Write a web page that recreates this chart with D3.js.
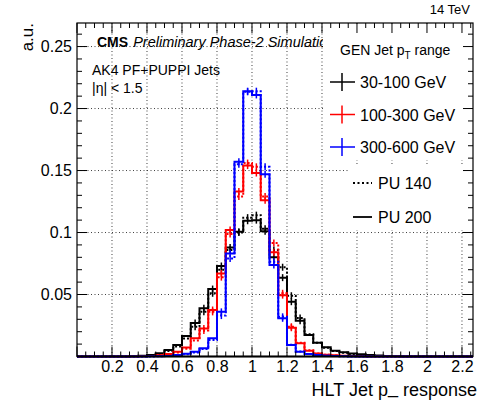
<!DOCTYPE html>
<html><head><meta charset="utf-8">
<script src="https://cdn.jsdelivr.net/npm/d3@7"></script>
<style>
html,body{margin:0;padding:0;background:#fff;}
svg text{font-family:"Liberation Sans",Arial,Helvetica,sans-serif;}
</style></head>
<body><svg id="c" width="478" height="400"></svg>
<script>
// bin lower edges (bin width 0.05)
const binLow = [0.25,0.30,0.35,0.40,0.45,0.50,0.55,0.60,0.65,0.70,0.75,0.80,0.85,0.90,0.95,1.00,1.05,1.10,1.15,1.20,1.25,1.30,1.35,1.40,1.45,1.50,1.55,1.60,1.65,1.70,1.75,1.80];
const binWidth = 0.05;
const black200 = [0.0001,0.0003,0.0006,0.0013,0.0026,0.0052,0.0093,0.0165,0.027,0.039,0.0544,0.073,0.088,0.1007,0.1095,0.110,0.101,0.080,0.0636,0.0442,0.0289,0.0173,0.0111,0.0074,0.0047,0.0034,0.0025,0.0018,0.0012,0.0008,0.0005,0.0003];
const black140 = [0.0001,0.0002,0.0005,0.0010,0.0020,0.0045,0.0080,0.0145,0.024,0.036,0.051,0.070,0.086,0.100,0.112,0.114,0.103,0.086,0.072,0.049,0.031,0.018,0.011,0.007,0.0045,0.003,0.002,0.0013,0.0008,0.0005,0.0003,0.0002];
const red200 = [0,0.0001,0.0003,0.0005,0.001,0.002,0.0039,0.0073,0.0147,0.0225,0.0375,0.067,0.102,0.133,0.154,0.148,0.126,0.084,0.0495,0.0232,0.0106,0.0047,0.0025,0.0015,0.001,0.0006,0.0004,0.0002,0.0001,0,0,0];
const red140 = [0,0.0001,0.0002,0.0004,0.0008,0.0017,0.0033,0.0062,0.013,0.021,0.036,0.064,0.0988,0.129,0.156,0.153,0.129,0.0915,0.051,0.024,0.011,0.005,0.0025,0.0014,0.0008,0.0005,0.0003,0.0002,0.0001,0,0,0];
const blue200 = [0,0,0,0.0002,0.0003,0.0005,0.0012,0.0022,0.0039,0.0066,0.0147,0.036,0.083,0.157,0.214,0.211,0.147,0.0738,0.0308,0.0093,0.0039,0.002,0.0012,0.0007,0.0004,0.0002,0.0001,0,0,0,0,0];
const blue140 = [0,0,0,0.0001,0.0002,0.0004,0.001,0.0018,0.0033,0.006,0.0133,0.033,0.079,0.155,0.2135,0.214,0.153,0.0765,0.032,0.0095,0.004,0.002,0.0012,0.0007,0.0004,0.0002,0.0001,0,0,0,0,0];
const xTicks = [0.2,0.4,0.6,0.8,1,1.2,1.4,1.6,1.8,2,2.2];
const yTicks = [0.05,0.1,0.15,0.2,0.25];
const legendRanges = ["30-100 GeV","100-300 GeV","300-600 GeV"];
const legendColors = ["#000000","#ff0000","#0000ff"];
const legendPU = ["PU 140","PU 200"];

const svg = d3.select("#c");
const L=77,R=473,T=23,B=356.5;
const x = d3.scaleLinear().domain([0,2.263]).range([L,R]);
const y = d3.scaleLinear().domain([0,0.269]).range([B,T]);

// grid
const grid = svg.append("g").attr("stroke","#000").attr("stroke-width",1).attr("stroke-dasharray","1,2.5").attr("opacity",0.75);
xTicks.forEach(t=>grid.append("line").attr("x1",x(t)).attr("x2",x(t)).attr("y1",T).attr("y2",B));
yTicks.forEach(t=>grid.append("line").attr("x1",L).attr("x2",R).attr("y1",y(t)).attr("y2",y(t)));

// histograms
function histPath(vals){
  const pts=[[x.domain()[0],0]];
  binLow.forEach((b,i)=>{pts.push([b,vals[i]]);});
  pts.push([binLow[binLow.length-1]+binWidth,0]);
  pts.push([x.domain()[1],0]);
  return d3.line().x(d=>x(d[0])).y(d=>y(d[1])).curve(d3.curveStepAfter)(pts);
}
const series = [
  {v:black140,c:"#000",dash:"2,2"},{v:black200,c:"#000",dash:null},
  {v:red140,c:"#ff0000",dash:"2,2"},{v:red200,c:"#ff0000",dash:null},
  {v:blue140,c:"#0000ff",dash:"2,2"},{v:blue200,c:"#0000ff",dash:null}
];
const hg = svg.append("g");
series.forEach(s=>{
  hg.append("path").attr("d",histPath(s.v)).attr("fill","none").attr("stroke",s.c)
    .attr("stroke-width",2).attr("stroke-dasharray",s.dash);
  binLow.forEach((b,i)=>{
    if(s.v[i]>0.02){
      const cx=x(b+binWidth/2), cy=y(s.v[i]);
      hg.append("line").attr("x1",cx).attr("x2",cx).attr("y1",cy-3.5).attr("y2",cy+3.5)
        .attr("stroke",s.c).attr("stroke-width",1.5);
    }
  });
});

// CMS labels
const cms = svg.append("text").attr("x",97).attr("y",47).attr("font-size",14);
cms.append("tspan").attr("font-weight","bold").text("CMS");
cms.append("tspan").attr("dx",5).attr("font-style","italic").attr("font-size",14.5).text("Preliminary Phase-2 Simulation");
svg.append("text").attr("x",92).attr("y",75).attr("font-size",14).text("AK4 PF+PUPPI Jets");
svg.append("text").attr("x",92).attr("y",93).attr("font-size",14).text("|η| < 1.5");

// legend boxes (white)
svg.append("rect").attr("x",323).attr("y",T+1).attr("width",R-323-1).attr("height",160-T-1).attr("fill","#fff");
svg.append("rect").attr("x",348).attr("y",166).attr("width",R-348-1).attr("height",64).attr("fill","#fff");

// frame
svg.append("rect").attr("x",L).attr("y",T).attr("width",R-L).attr("height",B-T).attr("fill","none").attr("stroke","#000").attr("stroke-width",1.2);
svg.append("line").attr("x1",L).attr("x2",R).attr("y1",B).attr("y2",B).attr("stroke","#000").attr("stroke-width",2);

// ticks
const tk = svg.append("g").attr("stroke","#000").attr("stroke-width",1);
const xMinor = d3.range(0,2.27,0.05);
xMinor.forEach(t=>{
  const major = Math.abs(t/0.2-Math.round(t/0.2))<1e-6;
  const len = major?10:5;
  tk.append("line").attr("x1",x(t)).attr("x2",x(t)).attr("y1",B).attr("y2",B-len);
  tk.append("line").attr("x1",x(t)).attr("x2",x(t)).attr("y1",T).attr("y2",T+len);
});
const yMinor = d3.range(0,0.27,0.01);
yMinor.forEach(t=>{
  const major = Math.abs(t/0.05-Math.round(t/0.05))<1e-6;
  const len = major?10:5;
  tk.append("line").attr("x1",L).attr("x2",L+len).attr("y1",y(t)).attr("y2",y(t));
  tk.append("line").attr("x1",R).attr("x2",R-len).attr("y1",y(t)).attr("y2",y(t));
});

// axes labels via d3 axes (text only)
const xa = svg.append("g").attr("transform",`translate(0,${B})`)
  .call(d3.axisBottom(x).tickValues(xTicks).tickFormat(d3.format("")).tickSize(0).tickPadding(4));
xa.select(".domain").remove();
xa.selectAll("text").attr("font-size",16).attr("fill","#000").attr("font-family","Liberation Sans, Arial, sans-serif");
const ya = svg.append("g").attr("transform",`translate(${L},0)`)
  .call(d3.axisLeft(y).tickValues(yTicks).tickFormat(d3.format("")).tickSize(0).tickPadding(5));
ya.select(".domain").remove();
ya.selectAll("text").attr("font-size",16).attr("fill","#000").attr("font-family","Liberation Sans, Arial, sans-serif");

// axis titles
const xt = svg.append("text").attr("x",477).attr("y",396).attr("text-anchor","end").attr("font-size",18);
xt.append("tspan").text("HLT Jet p");
xt.append("tspan").attr("dy",-3).text("_");
xt.append("tspan").attr("dy",3).text(" response");
svg.append("text").attr("transform","translate(33,23) rotate(-90)").attr("text-anchor","end").attr("font-size",17).text("a.u.");
svg.append("text").attr("x",470).attr("y",14).attr("text-anchor","end").attr("font-size",13).text("14 TeV");

// legend
const lt = svg.append("text").attr("x",340).attr("y",55).attr("font-size",14);
lt.append("tspan").text("GEN Jet p");
lt.append("tspan").attr("font-size",10).attr("dy",4).text("T");
lt.append("tspan").attr("dy",-4).text(" range");
const legY = d3.scalePoint().domain(legendRanges).range([82,147]);
legendRanges.forEach((r,i)=>{
  const cy=legY(r);
  svg.append("line").attr("x1",330).attr("x2",355).attr("y1",cy).attr("y2",cy).attr("stroke",legendColors[i]).attr("stroke-width",1.5);
  svg.append("line").attr("x1",342).attr("x2",342).attr("y1",cy-9).attr("y2",cy+9).attr("stroke",legendColors[i]).attr("stroke-width",1.5);
  svg.append("text").attr("x",360).attr("y",cy+6).attr("font-size",16).text(r);
});
const puY = d3.scalePoint().domain(legendPU).range([183,217]);
legendPU.forEach((p,i)=>{
  const cy=puY(p);
  svg.append("line").attr("x1",353).attr("x2",372).attr("y1",cy).attr("y2",cy).attr("stroke","#000").attr("stroke-width",1.8)
    .attr("stroke-dasharray",i===0?"2,2.5":null);
  svg.append("text").attr("x",378).attr("y",cy+6).attr("font-size",16).text(p);
});
</script></body></html>
